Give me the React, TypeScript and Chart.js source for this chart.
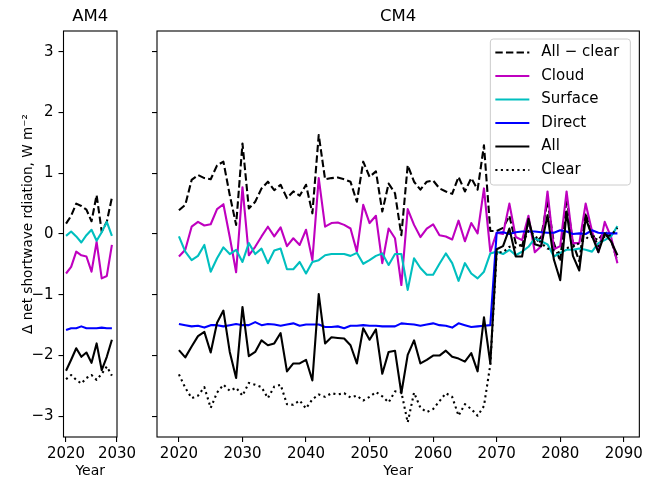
import React, { useEffect, useRef } from 'react';
import { Chart, registerables } from 'chart.js';

Chart.register(...registerables);
Chart.defaults.font.family = '"DejaVu Sans", sans-serif';

// ---------------- categories / ticks ----------------
const AM4_YEARS = [2020, 2021, 2022, 2023, 2024, 2025, 2026, 2027, 2028, 2029];
const CM4_YEARS: number[] = [];
for (let y = 2020; y <= 2089; y++) CM4_YEARS.push(y);

const Y_TICKS = [-3, -2, -1, 0, 1, 2, 3];
const AM4_X_TICKS = [2020, 2030];
const CM4_X_TICKS = [2020, 2030, 2040, 2050, 2060, 2070, 2080, 2090];

const SERIES_LABELS = ['All \u2212 clear', 'Cloud', 'Surface', 'Direct', 'All', 'Clear'];
const Y_LABEL = '\u0394 net shortwave rdiation, W m\u207B\u00B2';
const X_LABEL = 'Year';

// ---------------- AM4 values (2020-2029) ----------------
const AM4_ALL_MINUS_CLEAR = [0.17, 0.30, 0.50, 0.46, 0.40, 0.21, 0.64, 0.04, 0.20, 0.60];
const AM4_CLOUD = [-0.65, -0.54, -0.29, -0.35, -0.37, -0.62, -0.13, -0.73, -0.69, -0.18];
const AM4_SURFACE = [-0.03, 0.04, -0.04, -0.14, -0.02, 0.07, -0.11, 0.03, 0.20, -0.03];
const AM4_DIRECT = [-1.58, -1.55, -1.55, -1.52, -1.55, -1.55, -1.55, -1.54, -1.55, -1.55];
const AM4_ALL = [-2.25, -2.07, -1.88, -2.02, -1.95, -2.12, -1.80, -2.24, -2.02, -1.74];
const AM4_CLEAR = [-2.39, -2.32, -2.40, -2.46, -2.37, -2.32, -2.40, -2.30, -2.18, -2.33];

// ---------------- CM4 values (2020-2089) ----------------
const CM4_ALL_MINUS_CLEAR = [
  0.39, 0.48, 0.89, 0.97, 0.92, 0.90, 1.13, 1.19, 0.64, 0.15,
  1.49, 0.42, 0.53, 0.75, 0.86, 0.72, 0.81, 0.59, 0.70, 0.63,
  0.81, 0.34, 1.63, 0.90, 0.92, 0.93, 0.90, 0.86, 0.53, 1.19,
  0.94, 1.03, 0.37, 0.83, 0.67, -0.02, 1.13, 0.86, 0.73, 0.86,
  0.88, 0.75, 0.70, 0.66, 0.94, 0.70, 0.92, 0.73, 1.46, 0.05,
  0.05, 0.10, 0.30, -0.15, -0.20, 0.20, -0.15, -0.05, 0.55, -0.15,
  -0.45, 0.60, -0.15, -0.45, 0.35, -0.05, -0.10, 0.05, -0.10, -0.45,
];
const CM4_CLOUD = [
  -0.37, -0.26, 0.12, 0.20, 0.14, 0.16, 0.41, 0.49, -0.05, -0.63,
  0.77, -0.35, -0.21, -0.04, 0.12, -0.04, 0.11, -0.20, -0.07, -0.18,
  0.07, -0.43, 0.92, 0.12, 0.18, 0.19, 0.15, 0.09, -0.29, 0.48,
  0.18, 0.30, -0.48, 0.09, -0.07, -0.84, 0.41, 0.15, -0.05, 0.09,
  0.16, -0.02, -0.04, -0.09, 0.22, -0.12, 0.18, 0.01, 0.75, -0.29,
  0.02, 0.00, 0.50, -0.05, -0.10, 0.30, -0.30, -0.20, 0.70, -0.25,
  -0.20, 0.70, -0.15, -0.15, 0.50, 0.05, -0.30, 0.20, -0.05, -0.48,
];
const CM4_SURFACE = [
  -0.04, -0.29, -0.43, -0.36, -0.18, -0.62, -0.40, -0.22, -0.33, -0.26,
  -0.46, -0.15, -0.33, -0.24, -0.48, -0.27, -0.24, -0.58, -0.58, -0.46,
  -0.65, -0.46, -0.43, -0.35, -0.33, -0.33, -0.33, -0.36, -0.31, -0.49,
  -0.43, -0.36, -0.32, -0.51, -0.33, -0.33, -0.92, -0.40, -0.56, -0.67,
  -0.67, -0.49, -0.32, -0.48, -0.77, -0.48, -0.65, -0.73, -0.62, -0.32,
  -0.29, -0.33, -0.26, -0.35, -0.29, -0.21, -0.07, -0.12, -0.17, -0.37,
  -0.31, -0.26, -0.26, -0.24, -0.26, -0.29, -0.15, -0.10, -0.04, 0.13,
];
const CM4_DIRECT = [
  -1.48, -1.50, -1.52, -1.51, -1.54, -1.50, -1.50, -1.52, -1.50, -1.48,
  -1.50, -1.50, -1.45, -1.50, -1.48, -1.49, -1.51, -1.49, -1.47, -1.51,
  -1.49, -1.49, -1.49, -1.53, -1.53, -1.52, -1.55, -1.51, -1.51, -1.50,
  -1.51, -1.51, -1.52, -1.52, -1.52, -1.47, -1.48, -1.49, -1.51, -1.49,
  -1.47, -1.50, -1.51, -1.54, -1.47, -1.50, -1.53, -1.52, -1.51, -1.50,
  0.02, 0.03, 0.00, 0.03, 0.04, 0.04, 0.04, 0.03, 0.02, 0.02,
  0.06, 0.04, 0.00, 0.01, 0.00, 0.06, 0.02, 0.01, 0.01, 0.01,
];
const CM4_ALL = [
  -1.91, -2.03, -1.85, -1.68, -1.61, -1.95, -1.46, -1.26, -1.94, -2.37,
  -1.20, -2.01, -1.94, -1.75, -1.83, -1.80, -1.63, -2.26, -2.13, -2.13,
  -2.07, -2.41, -0.99, -1.80, -1.70, -1.71, -1.72, -1.83, -2.13, -1.55,
  -1.74, -1.57, -2.30, -1.94, -1.92, -2.62, -1.99, -1.75, -2.13, -2.07,
  -2.00, -2.00, -1.92, -2.02, -2.05, -2.10, -1.96, -2.26, -1.37, -2.13,
  -0.25, -0.20, 0.09, -0.37, -0.37, 0.25, -0.17, -0.20, 0.31, -0.42,
  -0.76, 0.37, -0.36, -0.60, 0.26, -0.03, -0.30, 0.01, -0.12, -0.35,
];
const CM4_CLEAR = [
  -2.31, -2.53, -2.70, -2.66, -2.52, -2.86, -2.61, -2.48, -2.58, -2.53,
  -2.66, -2.45, -2.48, -2.52, -2.70, -2.51, -2.48, -2.80, -2.81, -2.74,
  -2.87, -2.72, -2.64, -2.68, -2.62, -2.64, -2.62, -2.69, -2.66, -2.74,
  -2.68, -2.60, -2.67, -2.77, -2.59, -2.60, -3.10, -2.61, -2.86, -2.93,
  -2.88, -2.75, -2.62, -2.68, -2.99, -2.80, -2.88, -2.99, -2.83, -2.15,
  -0.30, -0.30, -0.21, -0.22, -0.17, 0.05, -0.02, -0.15, -0.24, -0.27,
  -0.31, -0.23, -0.21, -0.15, -0.09, 0.02, -0.20, -0.04, -0.02, 0.10,
];

// ---------------- styles ----------------
const STYLES = [
  { color: '#000000', dash: [7.4, 3.2] },
  { color: '#bf00bf', dash: [] as number[] },
  { color: '#00bfbf', dash: [] as number[] },
  { color: '#0000ff', dash: [] as number[] },
  { color: '#000000', dash: [] as number[] },
  { color: '#000000', dash: [2.1, 3.4] },
];

const TICK_FONT = 15;
const LABEL_FONT = 13.6;
const TITLE_FONT = 16.5;
const LEGEND_FONT = 15;

function fmtY(v: number) {
  return v < 0 ? '\u2212' + Math.abs(v) : String(v);
}

function makeDatasets(years: number[], series: number[][]) {
  return series.map((vals, i) => ({
    label: SERIES_LABELS[i],
    data: years.map((x, j) => ({ x, y: vals[j] })),
    borderColor: STYLES[i].color,
    backgroundColor: STYLES[i].color,
    borderDash: STYLES[i].dash,
    borderWidth: 2.1,
    borderJoinStyle: 'round',
    borderCapStyle: 'butt',
    pointRadius: 0,
    tension: 0,
    fill: false,
    order: -i,
  }));
}

const panelPlugin = {
  id: 'panel',
  afterDraw(chart: any, _args: any, opts: any) {
    const { ctx, chartArea: a } = chart;
    ctx.save();
    ctx.strokeStyle = '#000';
    ctx.lineWidth = 1.1;
    ctx.setLineDash([]);
    ctx.strokeRect(a.left, a.top, a.right - a.left, a.bottom - a.top);
    ctx.fillStyle = '#000';
    ctx.font = `${TITLE_FONT}px "DejaVu Sans"`;
    ctx.textAlign = 'center';
    ctx.textBaseline = 'middle';
    ctx.fillText(opts.title, (a.left + a.right) / 2, a.top - 14);

    if (opts.yLabel) {
      ctx.save();
      ctx.translate(28, 224);
      ctx.rotate(-Math.PI / 2);
      ctx.font = `${LABEL_FONT}px "DejaVu Sans"`;
      ctx.textAlign = 'center';
      ctx.textBaseline = 'middle';
      ctx.fillText(opts.yLabel, 0, 0);
      ctx.restore();
    }

    if (opts.legend) {
      const w = 140;
      const h = 146;
      const left = a.right - 9 - w;
      const top = a.top + 8;
      const r = 3;
      ctx.beginPath();
      ctx.moveTo(left + r, top);
      ctx.lineTo(left + w - r, top);
      ctx.quadraticCurveTo(left + w, top, left + w, top + r);
      ctx.lineTo(left + w, top + h - r);
      ctx.quadraticCurveTo(left + w, top + h, left + w - r, top + h);
      ctx.lineTo(left + r, top + h);
      ctx.quadraticCurveTo(left, top + h, left, top + h - r);
      ctx.lineTo(left, top + r);
      ctx.quadraticCurveTo(left, top, left + r, top);
      ctx.closePath();
      ctx.fillStyle = 'rgba(255,255,255,0.8)';
      ctx.fill();
      ctx.strokeStyle = '#cccccc';
      ctx.lineWidth = 1;
      ctx.stroke();

      ctx.font = `${LEGEND_FONT}px "DejaVu Sans"`;
      ctx.textAlign = 'left';
      ctx.textBaseline = 'middle';
      SERIES_LABELS.forEach((label, i) => {
        const y = top + 13.5 + i * 23.5;
        ctx.beginPath();
        ctx.strokeStyle = STYLES[i].color;
        ctx.lineWidth = 2.1;
        ctx.setLineDash(STYLES[i].dash);
        ctx.moveTo(left + 5, y);
        ctx.lineTo(left + 39, y);
        ctx.stroke();
        ctx.setLineDash([]);
        ctx.fillStyle = '#000';
        ctx.fillText(label, left + 51, y);
      });
    }
    ctx.restore();
  },
};

function buildConfig(p: any) {
  return {
    type: 'line',
    data: { datasets: makeDatasets(p.years, p.series) },
    plugins: [panelPlugin],
    options: {
      responsive: false,
      animation: false,
      devicePixelRatio: 1,
      layout: { padding: { left: 0, top: 31, right: p.padRight, bottom: 0 } },
      plugins: {
        legend: { display: false },
        tooltip: { enabled: false },
        panel: { title: p.title, legend: p.legend, yLabel: p.showY ? Y_LABEL : '' },
      },
      scales: {
        x: {
          type: 'linear',
          min: p.xMin,
          max: p.xMax,
          afterBuildTicks: (s: any) => {
            s.ticks = p.xTicks.map((v: number) => ({ value: v }));
          },
          afterFit: (s: any) => {
            s.height = 44;
          },
          grid: {
            display: true,
            drawOnChartArea: false,
            drawTicks: true,
            tickLength: 5,
            color: '#000',
            lineWidth: 1.1,
          },
          border: { display: false },
          ticks: {
            color: '#000',
            font: { size: TICK_FONT },
            padding: 3,
            maxRotation: 0,
            autoSkip: false,
            callback: (v: any) => String(v),
          },
          title: {
            display: true,
            text: X_LABEL,
            color: '#000',
            font: { size: 14 },
            padding: { top: 0, bottom: 1.5 },
          },
        },
        y: {
          type: 'linear',
          min: -3.34,
          max: 3.34,
          afterBuildTicks: (s: any) => {
            s.ticks = Y_TICKS.map((v) => ({ value: v }));
          },
          afterFit: (s: any) => {
            s.width = p.yWidth;
          },
          grid: {
            display: true,
            drawOnChartArea: false,
            drawTicks: true,
            tickLength: 5,
            color: '#000',
            lineWidth: 1.1,
          },
          border: { display: false },
          ticks: {
            display: p.showY,
            color: '#000',
            font: { size: TICK_FONT },
            padding: 5,
            autoSkip: false,
            callback: (v: any) => fmtY(v),
          },
          title: { display: false },
        },
      },
    },
  };
}

function Panel(props: { left: number; width: number; cfg: any }) {
  const ref = useRef<HTMLCanvasElement | null>(null);
  useEffect(() => {
    if (!ref.current) return;
    const chart = new Chart(ref.current, props.cfg);
    return () => chart.destroy();
  }, []);
  return (
    <canvas
      ref={ref}
      width={props.width}
      height={481}
      style={{ position: 'absolute', left: props.left, top: 0, width: props.width, height: 481 }}
    />
  );
}

export default function App() {
  const am4 = buildConfig({
    years: AM4_YEARS,
    series: [AM4_ALL_MINUS_CLEAR, AM4_CLOUD, AM4_SURFACE, AM4_DIRECT, AM4_ALL, AM4_CLEAR],
    xMin: 2019.5,
    xMax: 2030,
    xTicks: AM4_X_TICKS,
    yWidth: 63.5,
    padRight: 23,
    showY: true,
    title: 'AM4',
    legend: false,
  });
  const cm4 = buildConfig({
    years: CM4_YEARS,
    series: [CM4_ALL_MINUS_CLEAR, CM4_CLOUD, CM4_SURFACE, CM4_DIRECT, CM4_ALL, CM4_CLEAR],
    xMin: 2016.55,
    xMax: 2092.45,
    xTicks: CM4_X_TICKS,
    yWidth: 32,
    padRight: 4.3,
    showY: false,
    title: 'CM4',
    legend: true,
  });
  return (
    <div style={{ position: 'fixed', left: 0, top: 0, width: 646, height: 481, background: '#fff' }}>
      <Panel left={0} width={140} cfg={am4} />
      <Panel left={125} width={521} cfg={cm4} />
    </div>
  );
}
